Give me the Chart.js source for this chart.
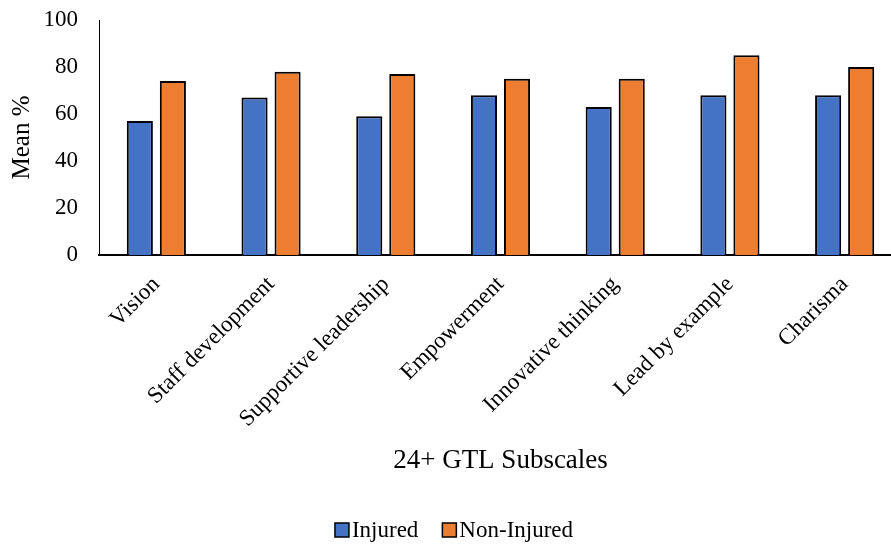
<!DOCTYPE html>
<html>
<head>
<meta charset="utf-8">
<script src="https://cdn.jsdelivr.net/npm/chart.js@4/dist/chart.umd.min.js"></script>
<style>
  html, body { margin: 0; padding: 0; background: #fff; }
  #wrap { width: 891px; height: 545px; position: relative; }
</style>
</head>
<body>
<div id="wrap"><canvas id="c" width="891" height="545"></canvas></div>
<script>
// GTL subscale means (%) for injured vs. non-injured groups
const subscales = ['Vision', 'Staff development', 'Supportive leadership', 'Empowerment',
                   'Innovative thinking', 'Lead by example', 'Charisma'];
const injured    = [57, 67, 59, 68, 63, 68, 68];
const nonInjured = [74, 78, 77, 75, 75, 85, 80];
const yTicks     = [0, 20, 40, 60, 80, 100];

const SERIF = '"Liberation Serif", "Times New Roman", serif';
const BLUE = '#4472C4';
const ORANGE = '#ED7D31';

// Plot area: fixed top edge, and it runs a little past the right edge of the canvas
const plotBox = {
  id: 'plotBox',
  afterLayout(chart) {
    const right = 902, top = 20;
    const xs = chart.scales.x, ys = chart.scales.y;
    xs.right = right;
    xs.width = right - xs.left;
    ys.top = top;
    ys.height = ys.bottom - top;
    chart.chartArea.right = right;
    chart.chartArea.width = right - chart.chartArea.left;
    chart.chartArea.top = top;
    chart.chartArea.height = chart.chartArea.bottom - top;
    xs.configure();
    ys.configure();
  }
};

// Legend drawn on the canvas: small bordered squares with tight text spacing
const bottomLegend = {
  id: 'bottomLegend',
  afterDraw(chart) {
    const ctx = chart.ctx;
    const box = 14, gapText = 3, gapItem = 24, cy = 530;
    ctx.save();
    ctx.font = '23px ' + SERIF;
    ctx.textBaseline = 'middle';
    const items = chart.data.datasets.map(d => ({
      label: d.label, color: d.backgroundColor, w: ctx.measureText(d.label).width
    }));
    let total = 0;
    items.forEach((it, i) => { total += box + gapText + it.w + (i < items.length - 1 ? gapItem : 0); });
    let x = 454 - total / 2;
    items.forEach(it => {
      ctx.fillStyle = it.color;
      ctx.fillRect(x, cy - box / 2, box, box);
      ctx.lineWidth = 1.5;
      ctx.strokeStyle = '#000';
      ctx.strokeRect(x, cy - box / 2, box, box);
      ctx.fillStyle = '#000';
      ctx.textAlign = 'left';
      ctx.fillText(it.label, x + box + gapText, cy + 1);
      x += box + gapText + it.w + gapItem;
    });
    ctx.restore();
  }
};

new Chart(document.getElementById('c'), {
  type: 'bar',
  data: {
    labels: subscales,
    datasets: [
      { label: 'Injured', data: injured, backgroundColor: BLUE,
        borderColor: '#000', borderWidth: 2 },
      { label: 'Non-Injured', data: nonInjured, backgroundColor: ORANGE,
        borderColor: '#000', borderWidth: 2 }
    ]
  },
  options: {
    responsive: false,
    animation: false,
    devicePixelRatio: 1,
    layout: { padding: { top: 6, left: 0, right: 0, bottom: 64 } },
    datasets: { bar: { categoryPercentage: 0.576, barPercentage: 0.79 } },
    plugins: {
      legend: { display: false },
      tooltip: { enabled: false }
    },
    scales: {
      x: {
        grid: { display: false, drawTicks: false },
        border: { display: true, color: '#000', width: 2 },
        ticks: {
          autoSkip: false, minRotation: 45, maxRotation: 45, padding: 16,
          color: '#000', font: { family: SERIF, size: 23 }
        },
        title: {
          display: true, text: '24+ GTL Subscales', color: '#000',
          font: { family: SERIF, size: 27 }, padding: { top: 4, bottom: 4 }
        },
        afterFit(scale) { scale.height = 226; }
      },
      y: {
        min: 0, max: 100,
        afterBuildTicks(scale) { scale.ticks = yTicks.map(v => ({ value: v })); },
        grid: { display: false, drawTicks: false },
        border: { display: true, color: '#000', width: 1 },
        ticks: { padding: 21, color: '#000', font: { family: SERIF, size: 23 } },
        title: {
          display: true, text: 'Mean %', color: '#000',
          font: { family: SERIF, size: 25 }, padding: { top: 7, bottom: 0 }
        },
        afterFit(scale) { scale.width = 99; }
      }
    }
  },
  plugins: [plotBox, bottomLegend]
});
</script>
</body>
</html>
